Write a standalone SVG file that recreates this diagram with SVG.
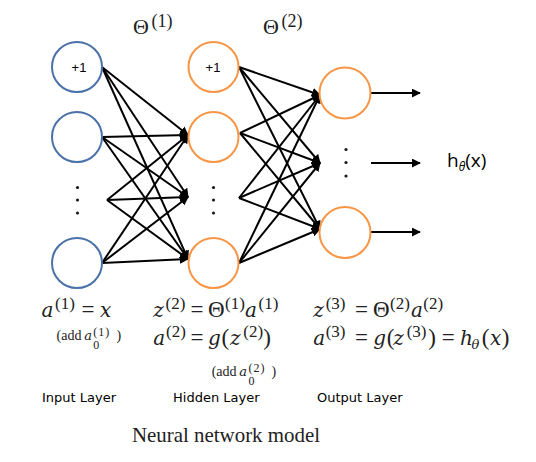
<svg xmlns="http://www.w3.org/2000/svg" width="536" height="462" viewBox="0 0 536 462">
<style>
.in{fill:#fff;stroke:#4a72a8;stroke-width:2}
.hid{fill:#fff;stroke:#f79646;stroke-width:2}
.dot{fill:#1a1a1a}
.lbl{font-family:"Liberation Sans",Arial,sans-serif;font-size:13px;fill:#000}
.lay{font-family:"DejaVu Sans",Verdana,sans-serif;font-size:13px;fill:#000}
.m{font-family:"Liberation Serif","Times New Roman",serif;font-size:23px;fill:#222}
.sp{font-size:17px}
.sm{font-size:14px}
.sx{font-size:12px;letter-spacing:1px}
.i{font-family:"DejaVu Serif",serif;font-style:italic;font-size:20px}
.ia{font-family:"DejaVu Serif",serif;font-style:italic;font-size:13px}
.cap{font-family:"Liberation Serif","Times New Roman",serif;font-size:21px;fill:#222}
.h{font-family:"Open Sans","Liberation Sans",sans-serif;font-size:19px;fill:#000}
#connectors line{stroke:#000;stroke-width:2;marker-end:url(#ah)}
</style>
<defs>
<marker id="ah" viewBox="0 0 10 10" refX="9" refY="5" markerWidth="4.5" markerHeight="4.5" orient="auto" markerUnits="strokeWidth">
<path d="M0,0 L10,5 L0,10 z" fill="#000"/>
</marker>
</defs>
<rect width="536" height="462" fill="#fff"/>

<g id="connectors">
<line x1="102" y1="67" x2="188" y2="135"/>
<line x1="102" y1="67" x2="188" y2="197"/>
<line x1="102" y1="67" x2="188" y2="259"/>
<line x1="102" y1="137" x2="188" y2="135"/>
<line x1="102" y1="137" x2="188" y2="197"/>
<line x1="102" y1="137" x2="188" y2="259"/>
<line x1="107" y1="200" x2="188" y2="135"/>
<line x1="107" y1="200" x2="188" y2="197"/>
<line x1="107" y1="200" x2="188" y2="259"/>
<line x1="102" y1="263" x2="188" y2="135"/>
<line x1="102" y1="263" x2="188" y2="197"/>
<line x1="102" y1="263" x2="188" y2="259"/>
<line x1="239" y1="67" x2="320" y2="95"/>
<line x1="239" y1="67" x2="320" y2="163"/>
<line x1="239" y1="67" x2="320" y2="229"/>
<line x1="240" y1="133" x2="320" y2="95"/>
<line x1="240" y1="133" x2="320" y2="163"/>
<line x1="240" y1="133" x2="320" y2="229"/>
<line x1="239" y1="198" x2="320" y2="95"/>
<line x1="239" y1="198" x2="320" y2="163"/>
<line x1="239" y1="198" x2="320" y2="229"/>
<line x1="239" y1="263" x2="320" y2="95"/>
<line x1="239" y1="263" x2="320" y2="163"/>
<line x1="239" y1="263" x2="320" y2="229"/>
<line x1="370" y1="93" x2="420" y2="93"/>
<line x1="371" y1="163" x2="420" y2="163"/>
<line x1="370" y1="232" x2="420" y2="232"/>
</g>

<g id="input-bias"><circle class="in" cx="77" cy="67" r="25"/><text class="lbl" x="79" y="72" text-anchor="middle">+1</text></g>
<g id="input-1"><circle class="in" cx="77" cy="137" r="25"/></g>
<g id="input-dots"><circle class="dot" cx="77.5" cy="187.5" r="1.6"/><circle class="dot" cx="77.5" cy="200" r="1.6"/><circle class="dot" cx="77.5" cy="213" r="1.6"/></g>
<g id="input-n"><circle class="in" cx="77" cy="263" r="25"/></g>

<g id="hidden-bias"><circle class="hid" cx="213.5" cy="67" r="25"/><text class="lbl" x="213" y="72" text-anchor="middle">+1</text></g>
<g id="hidden-1"><circle class="hid" cx="213.5" cy="137" r="25"/></g>
<g id="hidden-dots"><circle class="dot" cx="213.5" cy="187.5" r="1.6"/><circle class="dot" cx="213.5" cy="200" r="1.6"/><circle class="dot" cx="213.5" cy="213" r="1.6"/></g>
<g id="hidden-n"><circle class="hid" cx="213.5" cy="263" r="25"/></g>

<g id="output-1"><circle class="hid" cx="345" cy="93" r="25.5"/></g>
<g id="output-dots"><circle class="dot" cx="346" cy="149.5" r="1.6"/><circle class="dot" cx="346" cy="162.5" r="1.6"/><circle class="dot" cx="346" cy="176" r="1.6"/></g>
<g id="output-n"><circle class="hid" cx="345" cy="232.5" r="25.5"/></g>

<g id="output-label"><text class="h" x="447" y="167">h<tspan font-size="12" font-style="italic" dy="4">θ</tspan><tspan dy="-4">(x)</tspan></text></g>

<g id="theta-labels">
<text class="m" style="font-size:22px"><tspan x="133" y="33.5">Θ</tspan><tspan x="151.5" y="27" style="font-size:18px">(1)</tspan></text>
<text class="m" style="font-size:22px"><tspan x="263" y="33.5">Θ</tspan><tspan x="281.5" y="27" style="font-size:18px">(2)</tspan></text>
</g>

<g id="eq-input">
<text class="m"><tspan class="i" x="41.5" y="317">a</tspan><tspan class="sp" x="55" y="309">(1)</tspan><tspan x="81.5" y="317">=</tspan><tspan class="i" x="100" y="317">x</tspan></text>
<text class="m sm"><tspan x="56.5" y="340">(add</tspan><tspan class="ia" x="84.3" y="340">a</tspan><tspan class="sx" x="93.3" y="335.5">(1)</tspan><tspan class="sx" x="93.3" y="349">0</tspan><tspan x="116.5" y="340">)</tspan></text>
</g>

<g id="eq-hidden">
<text class="m"><tspan class="i" x="153.3" y="317">z</tspan><tspan class="sp" x="165.5" y="309">(2)</tspan><tspan x="190.5" y="317">=</tspan><tspan x="208" y="317">Θ</tspan><tspan class="sp" x="225" y="309">(1)</tspan><tspan class="i" x="245" y="317">a</tspan><tspan class="sp" x="258.5" y="309">(1)</tspan></text>
<text class="m"><tspan class="i" x="153.3" y="345">a</tspan><tspan class="sp" x="166" y="337">(2)</tspan><tspan x="190.5" y="345">=</tspan><tspan class="i" x="208" y="345">g</tspan><tspan x="221.5" y="345">(</tspan><tspan class="i" x="230" y="345">z</tspan><tspan class="sp" x="243.3" y="337">(2)</tspan><tspan x="263.3" y="345">)</tspan></text>
<text class="m sm"><tspan x="211.7" y="376">(add</tspan><tspan class="ia" x="239.3" y="376">a</tspan><tspan class="sx" x="248.5" y="371.5">(2)</tspan><tspan class="sx" x="248.5" y="385">0</tspan><tspan x="271.5" y="376">)</tspan></text>
</g>

<g id="eq-output">
<text class="m"><tspan class="i" x="313.3" y="317">z</tspan><tspan class="sp" x="325.7" y="309">(3)</tspan><tspan x="355" y="317">=</tspan><tspan x="373" y="317">Θ</tspan><tspan class="sp" x="390" y="309">(2)</tspan><tspan class="i" x="411" y="317">a</tspan><tspan class="sp" x="423.3" y="309">(2)</tspan></text>
<text class="m"><tspan class="i" x="313.3" y="345">a</tspan><tspan class="sp" x="325.7" y="337">(3)</tspan><tspan x="355" y="345">=</tspan><tspan class="i" x="373.3" y="345">g</tspan><tspan x="386.7" y="345">(</tspan><tspan class="i" x="393.3" y="345">z</tspan><tspan class="sp" x="406.7" y="337">(3)</tspan><tspan x="428.3" y="345">)</tspan><tspan x="441.7" y="345">=</tspan><tspan class="i" x="460" y="345">h</tspan><tspan class="ia" x="471.5" y="349">θ</tspan><tspan x="481.7" y="345">(</tspan><tspan class="i" x="490" y="345">x</tspan><tspan x="501.7" y="345">)</tspan></text>
</g>

<g id="layer-labels">
<text class="lay" x="42" y="402">Input Layer</text>
<text class="lay" x="173" y="402">Hidden Layer</text>
<text class="lay" x="317" y="402">Output Layer</text>
</g>

<g id="caption"><text class="cap" x="132" y="442" textLength="188" lengthAdjust="spacingAndGlyphs">Neural network model</text></g>
</svg>
